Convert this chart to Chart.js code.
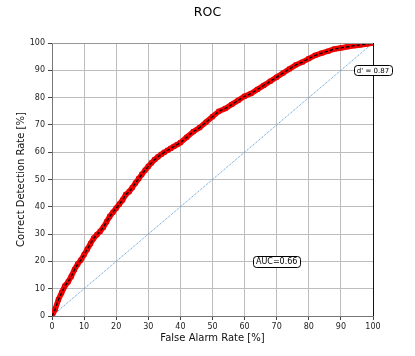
<!DOCTYPE html>
<html><head><meta charset="utf-8">
<script src="https://cdn.jsdelivr.net/npm/chart.js@4/dist/chart.umd.min.js"></script>
<style>html,body{margin:0;padding:0;background:#fff}</style>
</head><body>
<canvas id="c" width="415" height="356"></canvas>
<script>
// ROC curve values (percent)
const falseAlarm = [0,1,2,3,4,5,6,7,8,9,10,11,12,13,14,15,16,17,18,19,20,21,22,23,24,25,26,27,28,29,30,31,32,33,34,35,36,37,38,39,40,42,44,46,48,50,52,54,56,58,60,62,64,66,68,70,72,74,76,78,80,82,84,86,88,90,92,94,96,98,100];
const correctDetection = [0,2.5,6,8.5,11,12.5,14.5,17,19,20.5,22.5,24.5,26.5,28.5,29.8,31,32.5,34.5,36.5,38,39.5,41,42.5,44.5,45.5,47,48.7,50.3,51.9,53.4,54.8,56.1,57.3,58.3,59.2,60,60.7,61.4,62.1,62.8,63.5,65.5,67.5,69,71,73,75,76,77.5,79,80.5,81.5,83,84.5,86,87.5,89,90.5,92,93,94.3,95.5,96.3,97,97.8,98.2,98.6,99,99.3,99.6,100];
const chanceX = [0,100];
const chanceY = [0,100];
const tickValues = [0,10,20,30,40,50,60,70,80,90,100];
const chartTitle = 'ROC';
const xLabel = 'False Alarm Rate [%]';
const yLabel = 'Correct Detection Rate [%]';
const dPrimeText = "d' = 0.87";
const dPrimeAt = [100, 90];
const aucText = 'AUC=0.66';
const aucAt = [70, 20];

const toXY = (xs, ys) => xs.map((x, i) => ({x, y: ys[i]}));

const annot = {
  id: 'annot',
  afterDatasetsDraw(chart) {
    const {ctx, chartArea: a, scales: {x, y}} = chart;
    ctx.save();
    ctx.strokeStyle = '#999';
    ctx.lineWidth = 1;
    ctx.beginPath(); ctx.moveTo(a.left, a.top + 0.5); ctx.lineTo(a.right, a.top + 0.5); ctx.stroke();
    ctx.strokeStyle = '#111';
    ctx.beginPath(); ctx.moveTo(Math.round(a.right) + 0.5, a.top); ctx.lineTo(Math.round(a.right) + 0.5, a.bottom); ctx.stroke();
    const box = (text, vx, vy, size) => {
      ctx.font = size + 'px "DejaVu Sans"';
      const w = ctx.measureText(text).width + 6;
      const h = size + 3;
      const cx = x.getPixelForValue(vx), cy = y.getPixelForValue(vy);
      ctx.beginPath();
      ctx.roundRect(Math.round(cx - w / 2) + 0.5, Math.round(cy - h / 2) + 0.5, Math.round(w), Math.round(h), 3);
      ctx.fillStyle = '#fff'; ctx.fill();
      ctx.strokeStyle = '#000'; ctx.lineWidth = 1; ctx.stroke();
      ctx.fillStyle = '#000'; ctx.textAlign = 'center'; ctx.textBaseline = 'middle';
      ctx.fillText(text, cx, cy + 0.5);
    };
    box(dPrimeText, dPrimeAt[0], dPrimeAt[1], 7);
    box(aucText, aucAt[0], aucAt[1], 8);
    ctx.restore();
  }
};

new Chart(document.getElementById('c'), {
  type: 'scatter',
  data: {
    datasets: [
      { data: toXY(falseAlarm, correctDetection), showLine: true, borderColor: '#000', borderWidth: 1.3, borderDash: [3.5, 2], pointRadius: 0, fill: false },
      { data: toXY(falseAlarm, correctDetection), showLine: true, borderColor: '#f00', borderWidth: 5.5, pointStyle: 'rect', pointRadius: 3, pointBackgroundColor: '#f00', pointBorderColor: '#c00', pointBorderWidth: 0.6, fill: false },
      { data: toXY(chanceX, chanceY), showLine: true, borderColor: '#4f95d6', borderWidth: 1, borderDash: [1, 1], pointRadius: 0, fill: false }
    ]
  },
  options: {
    responsive: false,
    animation: false,
    devicePixelRatio: 1,
    layout: { padding: { left: 0, right: 0, top: 0, bottom: 0 } },
    plugins: {
      legend: { display: false },
      tooltip: { enabled: false },
      title: { display: true, text: chartTitle, color: '#000', font: { family: 'DejaVu Sans', size: 12.5, weight: 'normal' }, padding: { top: 5, bottom: 23 } }
    },
    scales: {
      x: {
        type: 'linear', min: 0, max: 100,
        afterBuildTicks: s => { s.ticks = tickValues.map(v => ({value: v})); },
        afterFit: s => { s.height = 40; },
        ticks: { color: '#222', font: { family: 'DejaVu Sans', size: 8 }, padding: 2, maxRotation: 0 },
        grid: { color: '#bdbdbd', tickColor: '#444', tickLength: 4, lineWidth: 1 },
        border: { color: '#777' },
        title: { display: true, text: xLabel, color: '#111', font: { family: 'DejaVu Sans', size: 10 }, padding: { top: 0, bottom: 12 } }
      },
      y: {
        type: 'linear', min: 0, max: 100,
        afterBuildTicks: s => { s.ticks = tickValues.map(v => ({value: v})); },
        afterFit: s => { s.width = 52; },
        ticks: { color: '#222', font: { family: 'DejaVu Sans', size: 8 }, padding: 3 },
        grid: { color: '#bdbdbd', tickColor: '#444', tickLength: 4, lineWidth: 1 },
        border: { color: '#777' },
        title: { display: true, text: yLabel, color: '#111', font: { family: 'DejaVu Sans', size: 10 }, padding: { top: 15, bottom: 0 } }
      },
      yR: {
        type: 'linear', position: 'right', display: true,
        afterFit: s => { s.width = 42; },
        ticks: { display: false },
        grid: { display: false, drawTicks: false },
        border: { display: false }
      }
    }
  },
  plugins: [annot]
});
</script>
</body></html>
